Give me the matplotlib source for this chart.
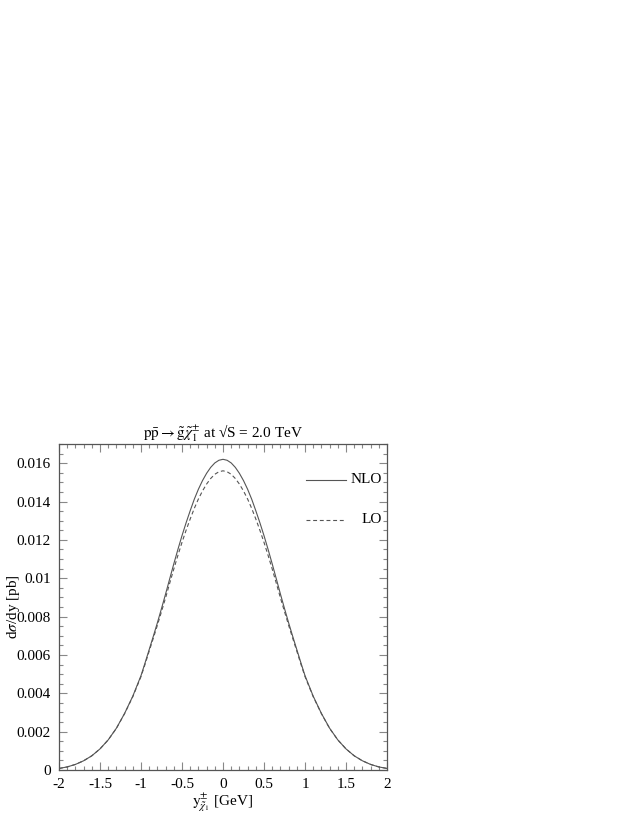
import matplotlib
matplotlib.use('Agg')
import matplotlib.pyplot as plt
from matplotlib.ticker import MultipleLocator, FuncFormatter
from matplotlib.lines import Line2D

# half of the (symmetric) rapidity range and d(sigma)/dy in pb
y_half = [0.0, 0.05, 0.1, 0.15, 0.2, 0.25, 0.3, 0.35, 0.4, 0.45, 0.5, 0.55,
          0.6, 0.65, 0.7, 0.75, 0.8, 0.85, 0.9, 0.95, 1.0,
          1.1, 1.2, 1.3, 1.4, 1.5, 1.6, 1.7, 1.8, 1.9, 2.0]
nlo_half = [0.01620, 0.01615, 0.01601, 0.01578, 0.01547, 0.01509, 0.01464,
            0.01412, 0.01352, 0.01289, 0.01222, 0.01150, 0.01075, 0.00997,
            0.00918, 0.00842, 0.00768, 0.00697, 0.00628, 0.00559, 0.00492,
            0.00385, 0.00295, 0.00218, 0.00157, 0.00110,
            0.00074, 0.00048, 0.00029, 0.00016, 0.00008]
lo_half = [0.01560, 0.01555, 0.01542, 0.01520, 0.01491, 0.01455, 0.01413,
           0.01364, 0.01309, 0.01250, 0.01187, 0.01119, 0.01048, 0.00974,
           0.00898, 0.00826, 0.00755, 0.00687, 0.00620, 0.00552, 0.00487,
           0.00382, 0.00294, 0.00217, 0.00157, 0.00110,
           0.00074, 0.00048, 0.00029, 0.00016, 0.00008]

y_vals = [-v for v in y_half[::-1]] + y_half[1:]
nlo = nlo_half[::-1] + nlo_half[1:]
lo = lo_half[::-1] + lo_half[1:]

plt.rcParams['font.family'] = ['Liberation Serif', 'DejaVu Serif']
plt.rcParams['mathtext.fontset'] = 'stix'

fig = plt.figure(figsize=(6.42, 8.30), dpi=100)
ax = fig.add_axes([0.0919, 0.0723, 0.5109, 0.3928])

line_col = '#555555'
dash = (0, (3.5, 2.5))
ax.plot(y_vals, nlo, color=line_col, lw=0.8, ls='-')
ax.plot(y_vals, lo, color=line_col, lw=0.8, ls=dash)

ax.set_xlim(-2, 2)
ax.set_ylim(0, 0.017)
ax.xaxis.set_major_locator(MultipleLocator(0.5))
ax.xaxis.set_minor_locator(MultipleLocator(0.1))
ax.yaxis.set_major_locator(MultipleLocator(0.002))
ax.yaxis.set_minor_locator(MultipleLocator(0.0005))
ax.xaxis.set_major_formatter(FuncFormatter(lambda v, p: '%g' % v))
ax.yaxis.set_major_formatter(FuncFormatter(lambda v, p: '%g' % round(v, 4)))

ax.tick_params(which='both', direction='in', top=True, right=True,
               color='#888888', labelsize=11, width=0.8)
ax.tick_params(which='major', length=6, pad=6)
ax.tick_params(which='minor', length=3)
for s in ax.spines.values():
    s.set_color('#555555')
    s.set_linewidth(0.9)

ax.set_title(r'$\mathrm{p\bar{p}} \rightarrow \tilde{\mathrm{g}}\tilde{\chi}_1^{\pm}$ at √S = 2.0 TeV',
             fontsize=11, pad=3)
ax.set_ylabel(r'd$\sigma$/dy [pb]', fontsize=11)
ax.yaxis.set_label_coords(-0.112, 0.5)
ax.set_xlabel(r'$\mathrm{y}_{\tilde{\chi}_1}^{\pm}$ [GeV]', fontsize=11)
ax.xaxis.set_label_coords(0.5, -0.065)

# legend drawn by hand so the labels sit right-aligned like the original
for ypos, style, lab in [(0.890, '-', 'NLO'), (0.768, dash, 'LO')]:
    ax.add_line(Line2D([0.752, 0.875], [ypos, ypos], transform=ax.transAxes,
                       color=line_col, lw=0.8, ls=style))
    ax.text(0.985, ypos, lab, transform=ax.transAxes, ha='right', va='center',
            fontsize=11)

fig.savefig('out.png', dpi=100)
